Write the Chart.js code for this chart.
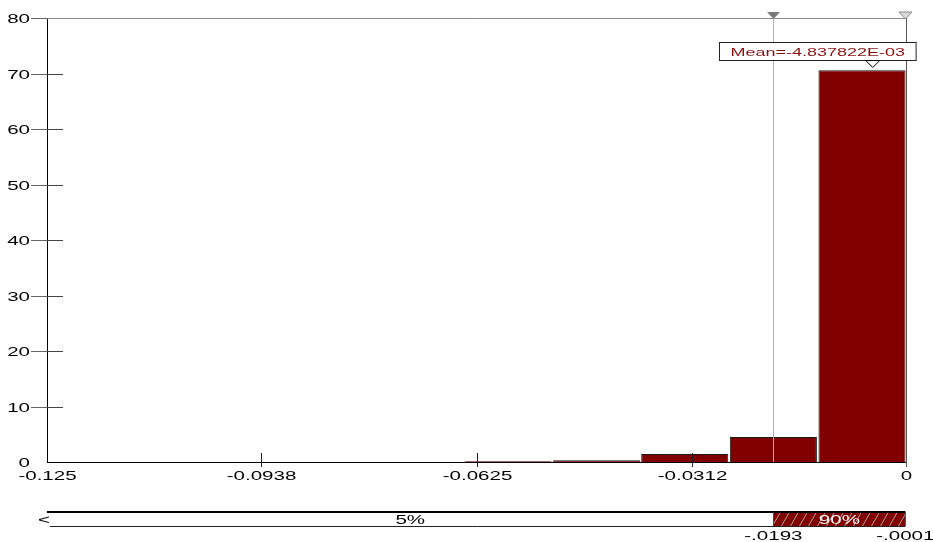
<!DOCTYPE html>
<html lang="en">
<head>
    <meta charset="UTF-8">
    <title>Histogram</title>
    <script src="https://cdn.jsdelivr.net/npm/chart.js@4.4.0/dist/chart.umd.min.js"></script>
    <style>
        body { margin: 0; background: #ffffff; }
    </style>
</head>
<body>
<canvas id="canvas" width="933" height="542"></canvas>
<script>
    const binCenters = [-0.0579, -0.0450, -0.0322, -0.0193, -0.0064]
    const binHeights = [0.2, 0.3, 1.45, 4.5, 70.6]
    const xTicks = [-0.125, -0.0938, -0.0625, -0.0312, 0]
    const xTickLabels = ['-0.125', '-0.0938', '-0.0625', '-0.0312', '0']
    const yTicks = [0, 10, 20, 30, 40, 50, 60, 70, 80]
    const meanValue = -0.004837822
    const meanLabel = 'Mean=-4.837822E-03'
    const markerValues = [-0.0193, -0.0001]
    const markerLabels = ['-.0193', '-.0001']
    const bandLabels = ['5%', '90%']

    const SX = 1.58
    const FONT = '13px "Liberation Sans", Arial, sans-serif'
    const MEAN_FONT = '11.4px "Liberation Sans", Arial, sans-serif'

    // text in the original is drawn wide, so stretch it sideways
    const wideText = (ctx, s, x, y, align, font) => {
        ctx.save()
        ctx.font = font || FONT
        ctx.textAlign = align
        ctx.textBaseline = 'middle'
        ctx.translate(x, y)
        ctx.scale(SX, 1)
        ctx.fillText(s, 0, 0)
        ctx.restore()
    }

    const line = (ctx, x1, y1, x2, y2, color, w) => {
        ctx.beginPath()
        ctx.strokeStyle = color
        ctx.lineWidth = w || 1
        ctx.moveTo(x1, y1)
        ctx.lineTo(x2, y2)
        ctx.stroke()
    }

    const overlay = {
        id: 'overlay',
        afterDraw: (chart) => {
            const ctx = chart.ctx
            const a = chart.chartArea
            const xs = chart.scales.x
            const ys = chart.scales.y
            ctx.save()

            // frame top + right
            line(ctx, a.left, a.top + 0.5, a.right, a.top + 0.5, '#8a8a8a')
            line(ctx, a.right + 0.5, a.top, a.right + 0.5, a.bottom + 5, '#555555')

            // percentile line
            const p0 = Math.round(xs.getPixelForValue(markerValues[0])) + 0.5
            const p1 = xs.getPixelForValue(markerValues[1])
            line(ctx, p0, a.top, p0, a.bottom, '#b4b4b4')

            // y ticks
            ctx.fillStyle = '#000'
            yTicks.forEach(v => {
                const y = Math.round(ys.getPixelForValue(v)) + 0.5
                if (v > 0) {
                    line(ctx, a.left - 16, y, a.left, y, '#666666')
                    if (v < 80) line(ctx, a.left, y, a.left + 16, y, '#444444')
                }
                wideText(ctx, String(v), a.left - 17, y + 1, 'right')
            })

            // x ticks
            xTicks.forEach((v, i) => {
                const x = Math.round(xs.getPixelForValue(v)) + 0.5
                if (v > xTicks[0] && v < 0) line(ctx, x, a.bottom - 9, x, a.bottom + 5, '#222222')
                ctx.fillStyle = '#000'
                wideText(ctx, xTickLabels[i], x, a.bottom + 14, 'center')
            })

            // top triangles
            const tri = (x, fill, stroke) => {
                ctx.beginPath()
                ctx.moveTo(x - 6.5, a.top - 6)
                ctx.lineTo(x + 6.5, a.top - 6)
                ctx.lineTo(x, a.top + 1)
                ctx.closePath()
                ctx.fillStyle = fill
                ctx.fill()
                if (stroke) {
                    ctx.strokeStyle = stroke
                    ctx.lineWidth = 1
                    ctx.stroke()
                }
            }
            tri(p0, '#7a7a7a')
            tri(Math.round(p1) + 0.5, '#d8d8d8', '#8a8a8a')

            // mean box
            ctx.font = MEAN_FONT
            const tw = ctx.measureText(meanLabel).width * SX
            const bw = tw + 22
            const bx = Math.round(a.right + 10 - bw) + 0.5
            const by = a.top + 24.5
            const bh = 18
            ctx.fillStyle = '#ffffff'
            ctx.fillRect(bx, by, bw, bh)
            ctx.strokeStyle = '#222222'
            ctx.lineWidth = 1
            ctx.strokeRect(bx, by, bw, bh)
            ctx.fillStyle = '#8b1010'
            wideText(ctx, meanLabel, bx + bw / 2, by + bh / 2 + 1, 'center', MEAN_FONT)
            const mx = xs.getPixelForValue(meanValue)
            ctx.beginPath()
            ctx.moveTo(mx - 7, by + bh)
            ctx.lineTo(mx + 7, by + bh)
            ctx.lineTo(mx, by + bh + 7)
            ctx.closePath()
            ctx.fillStyle = '#ffffff'
            ctx.fill()
            ctx.strokeStyle = '#000000'
            ctx.stroke()

            // bottom range bar
            const top = a.bottom + 50
            const h = 14
            ctx.fillStyle = '#ffffff'
            ctx.fillRect(a.left, top, p1 - a.left, h)
            ctx.fillStyle = '#800000'
            ctx.fillRect(p0, top, p1 - p0, h)
            // hatching
            ctx.save()
            ctx.beginPath()
            ctx.rect(p0, top, p1 - p0, h)
            ctx.clip()
            for (let x = p0 - 10; x < p1 + 10; x += 9) {
                line(ctx, x, top + h, x + 8, top, '#b0a0a0')
            }
            ctx.restore()
            line(ctx, a.left, top, p1, top, '#000000', 2)
            line(ctx, a.left + 3, top + h + 0.5, p1, top + h + 0.5, '#222222')
            line(ctx, p0, top, p0, top + h, '#3c3c78')
            line(ctx, p1, top, p1, top + h, '#3c3c78')
            ctx.fillStyle = '#000'
            wideText(ctx, '<', a.left - 3, top + 8, 'center')
            wideText(ctx, bandLabels[0], (a.left + p0) / 2, top + 8, 'center')
            ctx.fillStyle = '#ffffff'
            wideText(ctx, bandLabels[1], (p0 + p1) / 2, top + 8, 'center')
            ctx.fillStyle = '#000'
            markerValues.forEach((v, i) => {
                wideText(ctx, markerLabels[i], xs.getPixelForValue(v), top + 24, 'center')
            })

            ctx.restore()
        }
    }

    const canvas = document.getElementById('canvas')
    new Chart(canvas.getContext('2d'), {
        type: 'bar',
        data: {
            datasets: [{
                data: binCenters.map((x, i) => ({x: x, y: binHeights[i]})),
                backgroundColor: '#800000',
                borderColor: ['#a0a0a0', '#1a1a1a', '#1a1a1a', '#1a1a1a', '#1a1a1a'],
                borderWidth: 1,
                borderSkipped: 'bottom',
                barPercentage: 0.99,
                categoryPercentage: 1
            }]
        },
        options: {
            responsive: false,
            animation: false,
            layout: {padding: {top: 18, right: 27, left: 0, bottom: 0}},
            plugins: {legend: {display: false}, tooltip: {enabled: false}},
            scales: {
                x: {
                    type: 'linear',
                    min: -0.125,
                    max: 0,
                    offset: false,
                    grid: {display: false, offset: false},
                    border: {color: '#000000'},
                    ticks: {display: false},
                    afterBuildTicks: (s) => { s.ticks = xTicks.map(v => ({value: v})) },
                    afterFit: (s) => { s.height = 80 }
                },
                y: {
                    min: 0,
                    max: 80,
                    grid: {display: false},
                    border: {color: '#000000'},
                    ticks: {display: false, stepSize: 10},
                    afterFit: (s) => { s.width = 47 }
                }
            }
        },
        plugins: [overlay]
    })
</script>
</body>
</html>
